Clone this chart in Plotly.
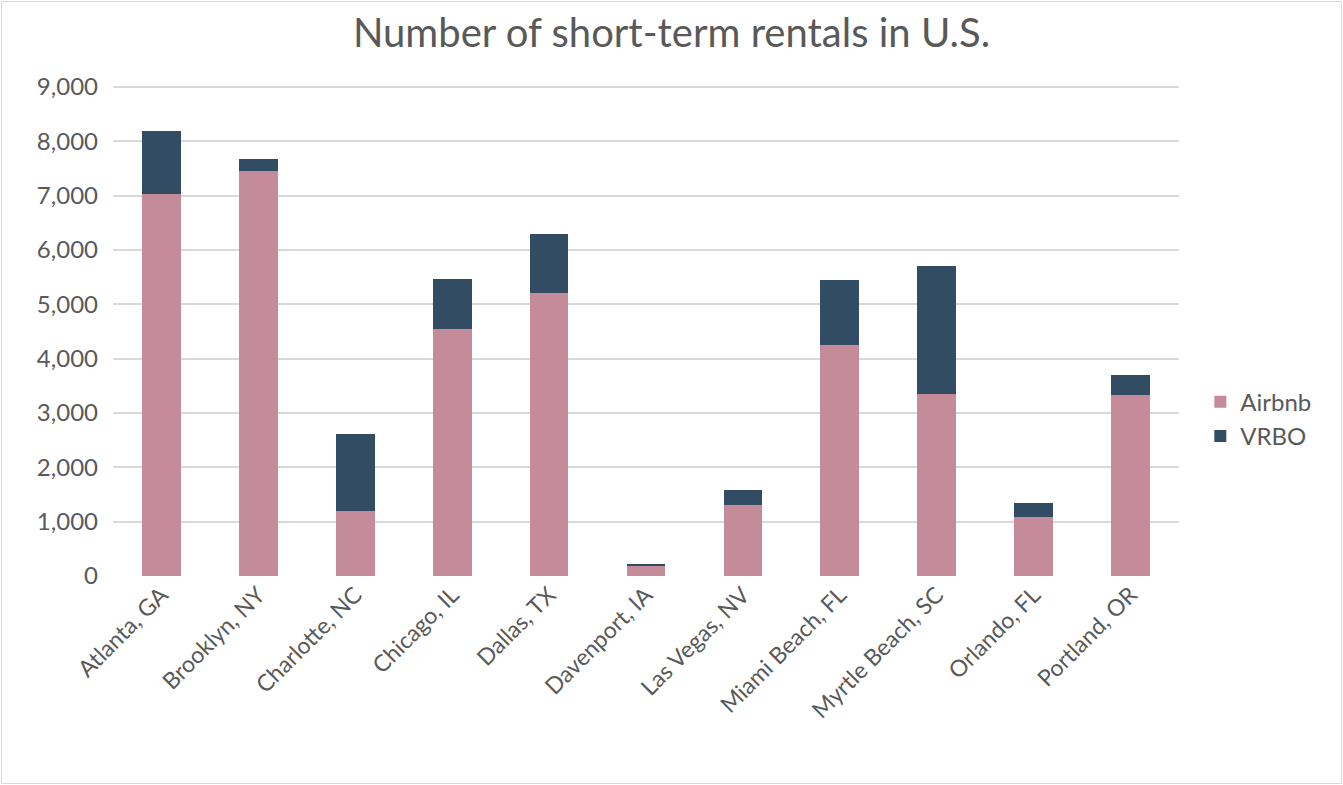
import plotly.graph_objects as go

cities = ["Atlanta, GA", "Brooklyn, NY", "Charlotte, NC", "Chicago, IL", "Dallas, TX",
          "Davenport, IA", "Las Vegas, NV", "Miami Beach, FL", "Myrtle Beach, SC",
          "Orlando, FL", "Portland, OR"]
airbnb = [7040, 7450, 1200, 4540, 5210, 190, 1300, 4250, 3345, 1095, 3330]
totals = [8185, 7670, 2610, 5460, 6300, 230, 1590, 5440, 5710, 1350, 3705]
vrbo = [t - a for t, a in zip(totals, airbnb)]

W, H = 1343, 785
ml, mr, mt, mb = 113, 164, 86, 209

fig = go.Figure()
fig.add_bar(x=cities, y=airbnb, name="Airbnb", marker=dict(color="#c48b9b", line=dict(width=0)))
fig.add_bar(x=cities, y=vrbo, name="VRBO", marker=dict(color="#314c63", line=dict(width=0)))

pw = W - ml - mr
ph = H - mt - mb
fig.add_shape(type="rect", xref="paper", yref="paper",
              x0=-(ml - 1.5) / pw, x1=1 + (mr - 1.5) / pw,
              y0=-(mb - 1.5) / ph, y1=1 + (mt - 1.5) / ph,
              line=dict(color="#d9d9d9", width=1), layer="below")

fig.update_layout(
    width=W, height=H,
    barmode="stack", bargap=0.6,
    paper_bgcolor="white", plot_bgcolor="white",
    font=dict(family="Lato, Carlito, sans-serif", color="#595959", size=24),
    title=dict(text="Number of short-term rentals in U.S.", x=0.5, xanchor="center",
               y=1 - 33 / H, yanchor="middle",
               font=dict(size=40, color="#595959")),
    margin=dict(l=ml, r=mr, t=mt, b=mb, autoexpand=False),
    legend=dict(x=1.02, y=0.32, xanchor="left", yanchor="middle", traceorder="normal",
                font=dict(size=24, color="#595959"), itemwidth=30, tracegroupgap=4),
    xaxis=dict(tickangle=-45, showgrid=False, showline=False, ticks="",
               tickfont=dict(size=23, color="#595959")),
    yaxis=dict(range=[0, 9020], tickvals=list(range(0, 9001, 1000)), tickformat=",",
               showgrid=True, gridcolor="#d9d9d9", gridwidth=1.5, zeroline=False,
               showline=False, ticks="", ticklabelstandoff=14,
               tickfont=dict(size=24, color="#595959")),
)

fig.write_html("out.html", config={"displayModeBar": False})
with open("out.html", encoding="utf-8") as f:
    html = f.read()
html = html.replace("<body>", '<body style="margin:0;padding:0;overflow:hidden">', 1)
with open("out.html", "w", encoding="utf-8") as f:
    f.write(html)
